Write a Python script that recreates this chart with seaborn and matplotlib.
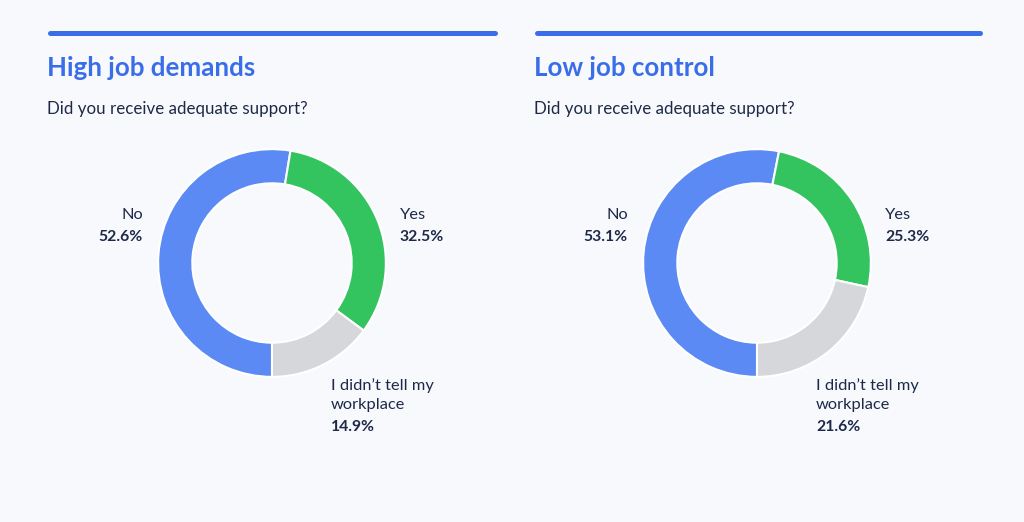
import matplotlib
matplotlib.use("Agg")
import matplotlib.pyplot as plt
from matplotlib.lines import Line2D
import seaborn as sns

# Data
titles = ["High job demands", "Low job control"]
question = "Did you receive adequate support?"
categories = ["No", "Yes", "I didn\u2019t tell my\nworkplace"]
high_demands = [52.6, 32.5, 14.9]
low_control = [53.1, 25.3, 21.6]

colors = ["#5b8af5", "#33c35f", "#d6d7da"]
bg = "#f7f9fd"
navy = "#1d2947"
blue = "#3a6ee8"

sns.set_theme(style="white")
plt.rcParams['font.family'] = ['Lato', 'DejaVu Sans']

W, H = 1024, 522
fig = plt.figure(figsize=(W / 100, H / 100), dpi=100, facecolor=bg)


def fx(px):
    return px / W


def fy(py):
    return 1 - py / H


panels = [
    # header left/right edge and donut center x
    dict(x0=47, x1=497, cx=272),
    dict(x0=534, x1=982, cx=757),
]
cy = 263
r = 115
lab_size = 11.8
pct_size = 11.3

for title, values, p in zip(titles, [high_demands, low_control], panels):
    cx = p["cx"]
    # header rule (round caps add half the line width at each end)
    fig.add_artist(Line2D([fx(p["x0"] + 2.5), fx(p["x1"] - 2.5)], [fy(32.5), fy(32.5)],
                          color=blue, lw=3.6, solid_capstyle="round"))
    fig.text(fx(p["x0"]), fy(76), title, color=blue, fontsize=18.6,
             fontweight="bold", va="baseline", ha="left")
    fig.text(fx(p["x0"]), fy(114), question, color=navy, fontsize=12.2,
             va="baseline", ha="left")

    ax = fig.add_axes([fx(cx - r), fy(cy + r), 2 * r / W, 2 * r / H])
    ax.set_facecolor(bg)
    ax.pie(values, colors=colors, startangle=270, counterclock=False,
           wedgeprops=dict(width=0.3, edgecolor="white", linewidth=1.5))
    ax.set_xlim(-1.01, 1.01)
    ax.set_ylim(-1.01, 1.01)
    ax.axis("off")

    # labels
    fig.text(fx(cx - 129), fy(219), categories[0], color=navy, fontsize=lab_size,
             ha="right", va="baseline")
    fig.text(fx(cx - 129), fy(241), f"{values[0]:.1f}%", color=navy,
             fontsize=pct_size, fontweight="bold", ha="right", va="baseline")
    fig.text(fx(cx + 128), fy(219), categories[1], color=navy, fontsize=lab_size,
             ha="left", va="baseline")
    fig.text(fx(cx + 128), fy(241), f"{values[1]:.1f}%", color=navy,
             fontsize=pct_size, fontweight="bold", ha="left", va="baseline")
    line1, line2 = categories[2].split("\n")
    fig.text(fx(cx + 59), fy(390), line1, color=navy, fontsize=lab_size,
             ha="left", va="baseline")
    fig.text(fx(cx + 59), fy(409), line2, color=navy, fontsize=lab_size,
             ha="left", va="baseline")
    fig.text(fx(cx + 59), fy(431), f"{values[2]:.1f}%", color=navy,
             fontsize=pct_size, fontweight="bold", ha="left", va="baseline")

fig.savefig("out.png", dpi=100, facecolor=bg)
